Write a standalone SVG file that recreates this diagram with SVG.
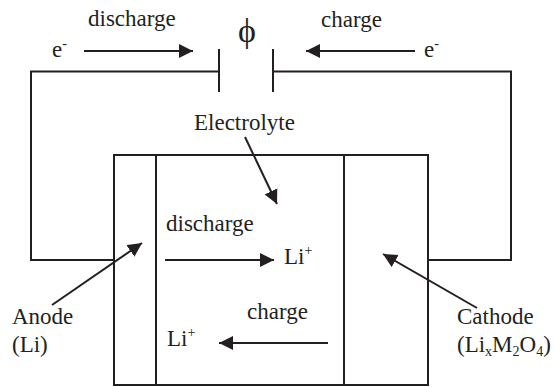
<svg xmlns="http://www.w3.org/2000/svg" width="554" height="387" viewBox="0 0 554 387">
<style>
text{font-family:"Liberation Serif","Times New Roman",serif;font-size:23px;fill:#231f20}
.s{font-size:14px}
.w{fill:none;stroke:#231f20;stroke-width:2}
.a{fill:none;stroke:#231f20;stroke-width:2;marker-end:url(#h)}
</style>
<defs>
<marker id="h" markerUnits="userSpaceOnUse" markerWidth="16" markerHeight="16" refX="14" refY="7.5" orient="auto">
<path d="M0 0.5L14 7.5L0 14.5Z" fill="#231f20"/>
</marker>
</defs>
<rect width="554" height="387" fill="#fff"/>
<g id="connectors">
<path class="w" d="M219 71.5H31V260H114"/>
<path class="w" d="M273 71.5H511V260H428"/>
<path class="a" d="M84 51H193"/>
<path class="a" d="M415 51H306"/>
<path class="a" d="M245 137L277 204"/>
<path class="a" d="M52 305L142 243"/>
<path class="a" d="M477 308L383 254"/>
<path class="a" d="M165 260H274"/>
<path class="a" d="M328 343H219"/>
</g>
<g id="capacitor">
<path class="w" d="M219 49V92M273 49V92"/>
<text x="238" y="42" style="font-size:34px">ϕ</text>
</g>
<g id="cell">
<rect class="w" x="114" y="155" width="314" height="230"/>
<path class="w" d="M156 155V385M344 155V385"/>
</g>
<g id="labels">
<text x="88" y="26">discharge</text>
<text x="321" y="27">charge</text>
<text x="52" y="57">e<tspan class="s" dy="-9">-</tspan></text>
<text x="424" y="57">e<tspan class="s" dy="-9">-</tspan></text>
<text x="194" y="130">Electrolyte</text>
<text x="166" y="231">discharge</text>
<text x="284" y="264">Li<tspan class="s" dy="-9">+</tspan></text>
<text x="247" y="319">charge</text>
<text x="167" y="346">Li<tspan class="s" dy="-9">+</tspan></text>
</g>
<g id="anode">
<text x="12" y="324">Anode</text>
<text x="12" y="352">(Li)</text>
</g>
<g id="cathode">
<text x="457" y="324">Cathode</text>
<text x="457" y="352">(Li<tspan class="s" dy="4">x</tspan><tspan dy="-4">M</tspan><tspan class="s" dy="4">2</tspan><tspan dy="-4">O</tspan><tspan class="s" dy="4">4</tspan><tspan dy="-4">)</tspan></text>
</g>
</svg>
